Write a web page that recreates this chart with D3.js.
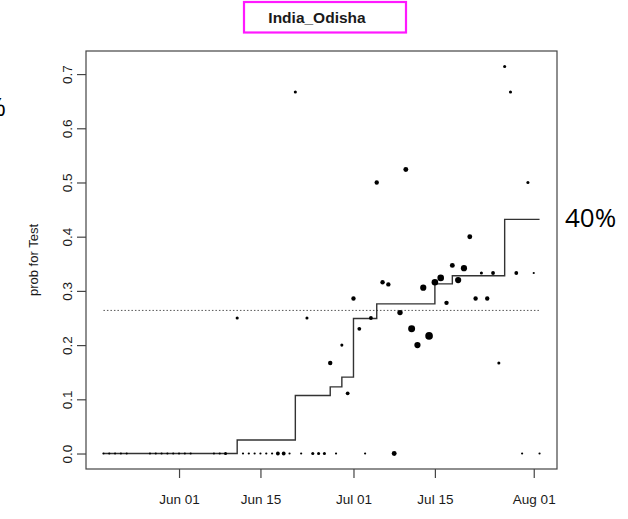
<!DOCTYPE html>
<html>
<head>
<meta charset="utf-8">
<script src="https://cdn.jsdelivr.net/npm/d3@7"></script>
<style>
  html, body { margin: 0; padding: 0; background: #fff; }
  svg { display: block; }
</style>
</head>
<body>
<svg id="chart" width="628" height="519"></svg>
<script>
// Daily test-positivity estimates for India_Odisha
const pointDates = [
  "2020-05-19","2020-05-20","2020-05-21","2020-05-22","2020-05-23",
  "2020-05-27","2020-05-28","2020-05-29","2020-05-30","2020-05-31",
  "2020-06-01","2020-06-02","2020-06-03",
  "2020-06-07","2020-06-08","2020-06-09",
  "2020-06-12","2020-06-13","2020-06-14","2020-06-15","2020-06-16","2020-06-17",
  "2020-06-18","2020-06-19","2020-06-20",
  "2020-06-22","2020-06-24","2020-06-25","2020-06-26","2020-06-28",
  "2020-07-03","2020-07-08","2020-07-30","2020-08-02",
  "2020-06-11","2020-06-21","2020-06-23","2020-06-27","2020-06-29","2020-06-30",
  "2020-07-01","2020-07-02","2020-07-04","2020-07-05","2020-07-06","2020-07-07",
  "2020-07-09","2020-07-10","2020-07-11","2020-07-12","2020-07-13","2020-07-14",
  "2020-07-15","2020-07-16","2020-07-17","2020-07-18","2020-07-19","2020-07-20",
  "2020-07-21","2020-07-22","2020-07-23","2020-07-24","2020-07-25","2020-07-26",
  "2020-07-27","2020-07-28","2020-07-29","2020-07-31","2020-08-01"
];
const pointProbs = [
  0,0,0,0,0,
  0,0,0,0,0,
  0,0,0,
  0,0,0,
  0,0,0,0,0,0,
  0,0,0,
  0,0,0,0,0,
  0,0,0,0,
  0.25,0.667,0.25,0.167,0.2,0.111,
  0.286,0.23,0.25,0.5,0.316,0.312,
  0.26,0.524,0.23,0.2,0.306,0.217,
  0.316,0.324,0.278,0.347,0.32,0.342,
  0.4,0.286,0.333,0.286,0.333,0.167,
  0.714,0.667,0.333,0.5,0.333
];
// number of tests behind each estimate (drives symbol size)
const pointTests = [
  1,1,1,1,1,
  1,1,1,1,1,
  1,1,1,
  1,1,2,
  1,1,1,1,1,1,
  3,3,1,
  1,2,2,2,1,
  1,5,1,1,
  2,2,2,4,2,3,
  4,3,3,4,4,4,
  6,5,10,8,8,12,
  9,9,4,5,8,8,
  5,4,2,4,3,2,
  2,2,3,2,1
];

// Running estimate, drawn as a step function
const stepDates = ["2020-05-19","2020-06-11","2020-06-21","2020-06-27","2020-06-29",
                   "2020-07-01","2020-07-05","2020-07-15","2020-07-18","2020-07-27","2020-08-02"];
const stepProbs = [0, 0.025, 0.107, 0.123, 0.141, 0.249, 0.276, 0.313, 0.328, 0.432, 0.432];

const meanProb = 0.264;

const xTickDates = ["2020-06-01","2020-06-15","2020-07-01","2020-07-15","2020-08-01"];
const xTickLabels = ["Jun 01","Jun 15","Jul 01","Jul 15","Aug 01"];
const yTicks = [0, 0.1, 0.2, 0.3, 0.4, 0.5, 0.6, 0.7];

const title = "India_Odisha";
const yLabel = "prob for Test";
const sideNote = "40%";

const parse = d3.utcParse("%Y-%m-%d");
const points = pointDates.map((d, i) => ({ date: parse(d), p: pointProbs[i], n: pointTests[i] }));
const steps = stepDates.map((d, i) => ({ date: parse(d), p: stepProbs[i] }));

const svg = d3.select("#chart");
const plot = { left: 86, right: 557, top: 51, bottom: 469 };

// R-style 4% padding around the data range
const xExt = d3.extent(points, d => d.date);
const xPad = (xExt[1] - xExt[0]) * 0.04;
const x = d3.scaleUtc()
  .domain([new Date(+xExt[0] - xPad), new Date(+xExt[1] + xPad)])
  .range([plot.left, plot.right]);

const yMax = d3.max(points, d => d.p);
const y = d3.scaleLinear()
  .domain([-0.04 * yMax, yMax * 1.04])
  .range([plot.bottom, plot.top]);

const r = d3.scaleSqrt().domain([0, 12]).range([0, 3.8]);

const ink = "#1a1a1a";

// Dotted reference line at the overall mean
svg.append("line")
  .attr("x1", x(xExt[0])).attr("x2", x(xExt[1]))
  .attr("y1", y(meanProb)).attr("y2", y(meanProb))
  .attr("stroke", "#555").attr("stroke-width", 1)
  .attr("stroke-dasharray", "1.5,2");

// Step line
svg.append("path")
  .datum(steps)
  .attr("fill", "none")
  .attr("stroke", "#333")
  .attr("stroke-width", 1.4)
  .attr("d", d3.line().x(d => x(d.date)).y(d => y(d.p)).curve(d3.curveStepAfter));

// Points
svg.append("g")
  .selectAll("circle")
  .data(points)
  .join("circle")
  .attr("cx", d => x(d.date))
  .attr("cy", d => y(d.p))
  .attr("r", d => r(d.n))
  .attr("fill", "#000");

// Frame
svg.append("rect")
  .attr("x", plot.left).attr("y", plot.top)
  .attr("width", plot.right - plot.left).attr("height", plot.bottom - plot.top)
  .attr("fill", "none").attr("stroke", "#444").attr("stroke-width", 1.2);

const font = "'Liberation Sans', Arial, Helvetica, sans-serif";

// X axis
const xAxis = svg.append("g")
  .attr("transform", `translate(0,${plot.bottom})`)
  .call(d3.axisBottom(x)
    .tickValues(xTickDates.map(parse))
    .tickFormat((d, i) => xTickLabels[i])
    .tickSize(9)
    .tickPadding(16));
xAxis.select(".domain").remove();
xAxis.selectAll(".tick line").attr("stroke", "#444").attr("stroke-width", 1.2);
xAxis.selectAll(".tick text")
  .attr("fill", ink)
  .style("font-family", font)
  .style("font-size", "13.5px");

// Y axis with labels turned parallel to the axis
const yAxis = svg.append("g")
  .attr("transform", `translate(${plot.left},0)`)
  .call(d3.axisLeft(y)
    .tickValues(yTicks)
    .tickFormat(d3.format(".1f"))
    .tickSize(9));
yAxis.select(".domain").remove();
yAxis.selectAll(".tick line").attr("stroke", "#444").attr("stroke-width", 1.2);
yAxis.selectAll(".tick text")
  .attr("fill", ink)
  .attr("x", 0).attr("y", -14).attr("dy", 0)
  .attr("transform", "rotate(-90)")
  .attr("text-anchor", "middle")
  .style("font-family", font)
  .style("font-size", "13.5px");

// Y axis title
svg.append("text")
  .attr("transform", `translate(38,${(plot.top + plot.bottom) / 2}) rotate(-90)`)
  .attr("text-anchor", "middle")
  .attr("fill", ink)
  .style("font-family", font)
  .style("font-size", "13px")
  .text(yLabel);

// Title in a magenta frame
svg.append("rect")
  .attr("x", 244).attr("y", 2)
  .attr("width", 162).attr("height", 30.5)
  .attr("fill", "none").attr("stroke", "#ff19ff").attr("stroke-width", 2.2);
svg.append("text")
  .attr("x", 317).attr("y", 22.5)
  .attr("text-anchor", "middle")
  .attr("fill", ink)
  .style("font-family", font)
  .style("font-weight", "bold")
  .style("font-size", "15.5px")
  .text(title);

// Side annotations
svg.append("text")
  .attr("x", 565).attr("y", 227)
  .attr("fill", "#000")
  .style("font-family", "'Open Sans', sans-serif")
  .style("font-size", "26px")
  .text(sideNote);
svg.append("text")
  .attr("x", 6).attr("y", 116)
  .attr("text-anchor", "end")
  .attr("fill", "#000")
  .style("font-family", "'Open Sans', sans-serif")
  .style("font-size", "26px")
  .text("26%");
</script>
</body>
</html>
